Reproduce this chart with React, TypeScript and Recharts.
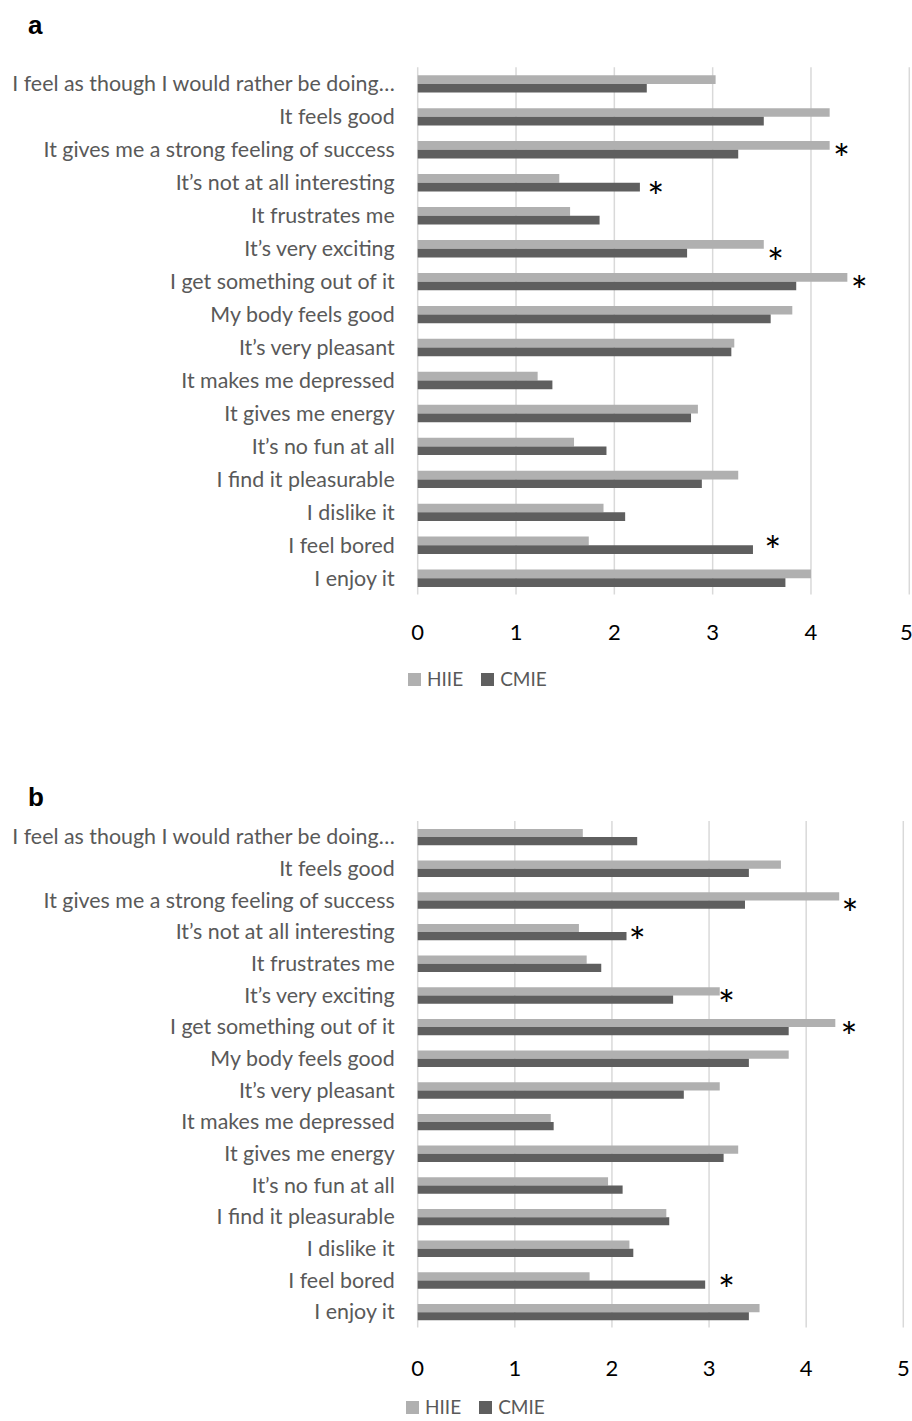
import { Bar, BarChart, CartesianGrid, Legend, ReferenceDot, XAxis, YAxis } from 'recharts'

const items = [
  'I feel as though I would rather be doing…',
  'It feels good',
  'It gives me a strong feeling of success',
  'It’s not at all interesting',
  'It frustrates me',
  'It’s very exciting',
  'I get something out of it',
  'My body feels good',
  'It’s very pleasant',
  'It makes me depressed',
  'It gives me energy',
  'It’s no fun at all',
  'I find it pleasurable',
  'I dislike it',
  'I feel bored',
  'I enjoy it'
]

const hiieA = [3.03, 4.19, 4.19, 1.44, 1.55, 3.52, 4.37, 3.81, 3.22, 1.22, 2.85, 1.59, 3.26, 1.89, 1.74, 4.0]
const cmieA = [2.33, 3.52, 3.26, 2.26, 1.85, 2.74, 3.85, 3.59, 3.19, 1.37, 2.78, 1.92, 2.89, 2.11, 3.41, 3.74]
const hiieB = [1.7, 3.74, 4.34, 1.66, 1.74, 3.11, 4.3, 3.82, 3.11, 1.37, 3.3, 1.96, 2.56, 2.18, 1.77, 3.52]
const cmieB = [2.26, 3.41, 3.37, 2.15, 1.89, 2.63, 3.82, 3.41, 2.74, 1.4, 3.15, 2.11, 2.59, 2.22, 2.96, 3.41]

const xTicks = [0, 1, 2, 3, 4, 5]

type Star = { item: string; at: number; bar: 'HIIE' | 'CMIE' | 'pair' }

// significance markers: value where the * sits, and which bar of the pair it lines up with
const starsA: Star[] = [
  { item: items[2], at: 4.31, bar: 'pair' },
  { item: items[3], at: 2.42, bar: 'CMIE' },
  { item: items[5], at: 3.64, bar: 'CMIE' },
  { item: items[6], at: 4.49, bar: 'pair' },
  { item: items[14], at: 3.61, bar: 'HIIE' }
]
const starsB: Star[] = [
  { item: items[2], at: 4.45, bar: 'CMIE' },
  { item: items[3], at: 2.26, bar: 'pair' },
  { item: items[5], at: 3.18, bar: 'pair' },
  { item: items[6], at: 4.44, bar: 'pair' },
  { item: items[14], at: 3.18, bar: 'pair' }
]

const LIGHT = '#b0b0b0'
const DARK = '#5f5f5f'
const TEXT = '#595959'
const GRID = '#d9d9d9'
const FONT = 'Lato, "Open Sans", sans-serif'
const STAR_SIZE = 40

type PanelProps = {
  letter: string
  hiie: number[]
  cmie: number[]
  stars: Star[]
  top: number
  height: number
  plotTop: number
  plotBottom: number
  plotRight: number
  barSize: number
  tickMargin: number
  legendTop: number
  legendLeft: number
  letterTop: number
}

function LegendBox({ left }: { left: number }) {
  const entries = [
    { name: 'HIIE', color: LIGHT },
    { name: 'CMIE', color: DARK }
  ]
  return (
    <div style={{ display: 'flex', alignItems: 'center', height: 18, paddingLeft: left, fontFamily: FONT }}>
      {entries.map((e) => (
        <div key={e.name} style={{ display: 'flex', alignItems: 'center', marginRight: 18 }}>
          <span style={{ width: 13, height: 13, background: e.color, display: 'inline-block', marginRight: 6 }} />
          <span style={{ fontSize: 19, color: TEXT, lineHeight: '18px' }}>{e.name}</span>
        </div>
      ))}
    </div>
  )
}

function Panel(p: PanelProps) {
  const data = items.map((item, i) => ({ item, HIIE: p.hiie[i], CMIE: p.cmie[i] }))
  const axisHeight = 40
  const yAxisWidth = 417.7
  const margin = {
    top: p.plotTop - p.top,
    right: 912 - p.plotRight,
    left: 0,
    bottom: p.top + p.height - p.plotBottom - axisHeight
  }
  const starShift = { HIIE: -p.barSize / 2, CMIE: p.barSize / 2, pair: 0 }

  return (
    <div style={{ position: 'absolute', left: 0, top: p.top, width: 912, height: p.height }}>
      <div
        style={{
          position: 'absolute',
          left: 28,
          top: p.letterTop - p.top,
          fontFamily: '"Liberation Sans", Arial, sans-serif',
          fontWeight: 'bold',
          fontSize: 26,
          lineHeight: '26px',
          color: '#000'
        }}
      >
        {p.letter}
      </div>
      <BarChart
        width={912}
        height={p.height}
        data={data}
        layout="vertical"
        margin={margin}
        barSize={p.barSize}
        barGap={0}
      >
        <CartesianGrid horizontal={false} stroke={GRID} strokeWidth={1.5} />
        <XAxis
          type="number"
          domain={[0, 5]}
          ticks={xTicks}
          height={axisHeight}
          axisLine={false}
          tickLine={false}
          tickSize={0}
          tickMargin={p.tickMargin}
          tick={{ fill: '#000', fontSize: 22, fontFamily: FONT }}
        />
        <YAxis
          type="category"
          dataKey="item"
          width={yAxisWidth}
          interval={0}
          axisLine={false}
          tickLine={false}
          tickSize={0}
          tickMargin={23}
          tick={{ fill: TEXT, fontSize: 21.4, fontFamily: FONT }}
        />
        <Bar dataKey="HIIE" fill={LIGHT} isAnimationActive={false} />
        <Bar dataKey="CMIE" fill={DARK} isAnimationActive={false} />
        {p.stars.map((s) => (
          <ReferenceDot
            key={s.item}
            x={s.at}
            y={s.item}
            r={0}
            ifOverflow="visible"
            shape={(props: any) => (
              <text
                x={props.cx}
                y={props.cy + starShift[s.bar] + STAR_SIZE * 0.62}
                textAnchor="middle"
                fontSize={STAR_SIZE}
                fontFamily={FONT}
                fill="#000"
              >
                *
              </text>
            )}
          />
        ))}
        <Legend
          layout="horizontal"
          verticalAlign="middle"
          align="center"
          wrapperStyle={{ top: p.legendTop - p.top, left: 0, width: 912 }}
          content={() => <LegendBox left={p.legendLeft} />}
        />
      </BarChart>
    </div>
  )
}

export default function App() {
  return (
    <div style={{ position: 'absolute', left: 0, top: 0, width: 912, height: 1421, overflow: 'hidden', background: '#fff' }}>
      <Panel
        letter="a"
        hiie={hiieA}
        cmie={cmieA}
        stars={starsA}
        top={0}
        height={700}
        plotTop={67.2}
        plotBottom={594.5}
        plotRight={909.3}
        barSize={8.7}
        tickMargin={30}
        legendTop={670.3}
        legendLeft={408}
        letterTop={12}
      />
      <Panel
        letter="b"
        hiie={hiieB}
        cmie={cmieB}
        stars={starsB}
        top={760}
        height={661}
        plotTop={820.9}
        plotBottom={1327.6}
        plotRight={903.3}
        barSize={8.2}
        tickMargin={33}
        legendTop={1398}
        legendLeft={406}
        letterTop={784}
      />
    </div>
  )
}
